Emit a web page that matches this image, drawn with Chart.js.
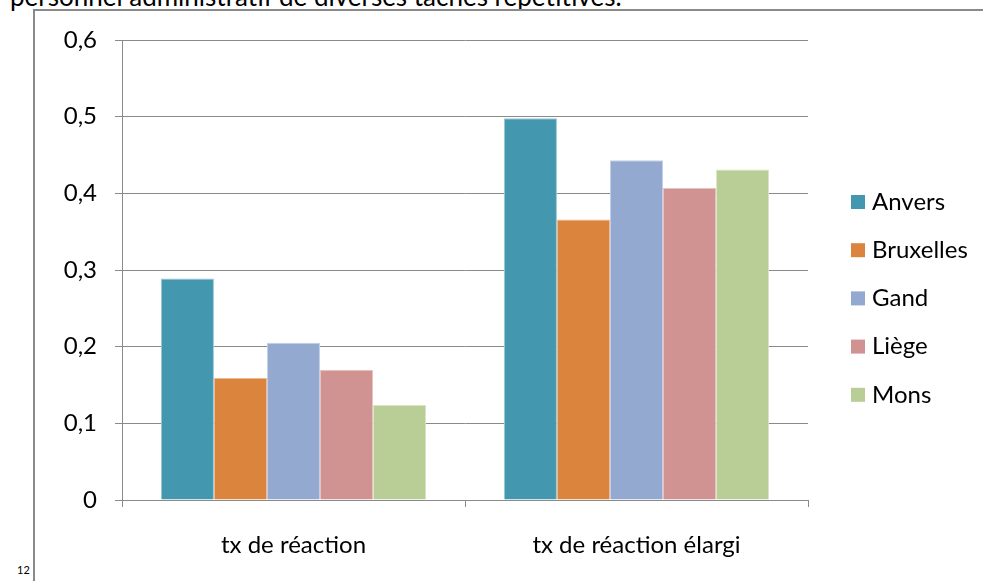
<!DOCTYPE html>
<html lang="fr">
<head>
<meta charset="utf-8">
<title>Taux de réaction par ville</title>
<script src="https://cdn.jsdelivr.net/npm/chart.js@4/dist/chart.umd.min.js"></script>
<style>
  html, body { margin: 0; padding: 0; background: #fff; }
  #page { position: relative; width: 983px; height: 581px; overflow: hidden; font-family: Lato, "Open Sans", sans-serif; color: #000; }
  #frame { position: absolute; left: 33px; top: 9px; width: 960px; height: 600px; border-left: 2px solid #8a8a8a; border-top: 2px solid #8a8a8a; box-sizing: border-box; }
  #intro { position: absolute; left: 10px; top: -17px; font-size: 26px; line-height: 26px; white-space: nowrap; }
  #pageno { position: absolute; left: 17px; top: 563px; font-size: 11px; line-height: 13px; }
  #chart { position: absolute; left: 0; top: 0; }
</style>
</head>
<body>
<div id="page">
  <div id="intro">personnel administratif de diverses tâches répétitives.</div>
  <div id="frame"></div>
  <div id="pageno">12</div>
  <canvas id="chart" width="983" height="581"></canvas>
</div>
<script>
// Categories and per-city response rates
const categories = ["tx de réaction", "tx de réaction élargi"];
const cities = ["Anvers", "Bruxelles", "Gand", "Liège", "Mons"];
const anvers    = [0.289, 0.498];
const bruxelles = [0.159, 0.366];
const gand      = [0.205, 0.443];
const liege     = [0.170, 0.407];
const mons      = [0.124, 0.431];
const yTicks    = [0, 0.1, 0.2, 0.3, 0.4, 0.5, 0.6];

const seriesValues = [anvers, bruxelles, gand, liege, mons];
const fills   = ["#4398AF", "#DB843D", "#94A9CF", "#D19392", "#B9CD96"];
const edges   = ["#9CC8D6", "#EDBB93", "#C4D0E6", "#E6C2C1", "#D8E5C3"];

const FONT = "Lato, 'Open Sans', sans-serif";

const datasets = cities.map((name, i) => ({
  label: name,
  data: seriesValues[i],
  backgroundColor: fills[i],
  borderColor: edges[i],
  borderWidth: 1,
  categoryPercentage: 0.773,
  barPercentage: 1
}));

// Vertical legend drawn to the right of the plot
const sideLegend = {
  id: "sideLegend",
  afterDraw(chart) {
    const ctx = chart.ctx;
    ctx.save();
    ctx.font = "24px " + FONT;
    ctx.textBaseline = "middle";
    ctx.textAlign = "left";
    chart.data.datasets.forEach((ds, i) => {
      const top = 195 + i * 48.2;
      ctx.fillStyle = ds.backgroundColor;
      ctx.fillRect(851, top, 14, 14);
      ctx.fillStyle = "#000";
      ctx.fillText(ds.label, 872, top + 7);
    });
    ctx.restore();
  }
};

const fmt = v => v === 0 ? "0" : v.toFixed(1).replace(".", ",");

new Chart(document.getElementById("chart"), {
  type: "bar",
  data: { labels: categories, datasets },
  options: {
    responsive: false,
    animation: false,
    layout: { padding: { top: 40, right: 175, left: 0, bottom: 0 } },
    plugins: {
      legend: { display: false },
      tooltip: { enabled: false }
    },
    scales: {
      x: {
        afterFit: s => { s.height = 81; },
        grid: {
          offset: true,
          drawOnChartArea: false,
          drawTicks: true,
          tickLength: 7,
          color: "#8a8a8a"
        },
        border: { display: true, color: "#8a8a8a", width: 1 },
        ticks: {
          color: "#000",
          padding: 24,
          font: { family: FONT, size: 24 }
        }
      },
      y: {
        min: 0,
        max: 0.6,
        afterFit: s => { s.width = 122; },
        afterBuildTicks: s => { s.ticks = yTicks.map(v => ({ value: v })); },
        grid: {
          color: "#8a8a8a",
          lineWidth: 1,
          drawTicks: true,
          tickLength: 7,
        },
        border: { display: true, color: "#8a8a8a", width: 1 },
        ticks: {
          color: "#000",
          padding: 18,
          font: { family: FONT, size: 24 },
          callback: v => fmt(v)
        }
      }
    }
  },
  plugins: [sideLegend]
});
</script>
</body>
</html>
